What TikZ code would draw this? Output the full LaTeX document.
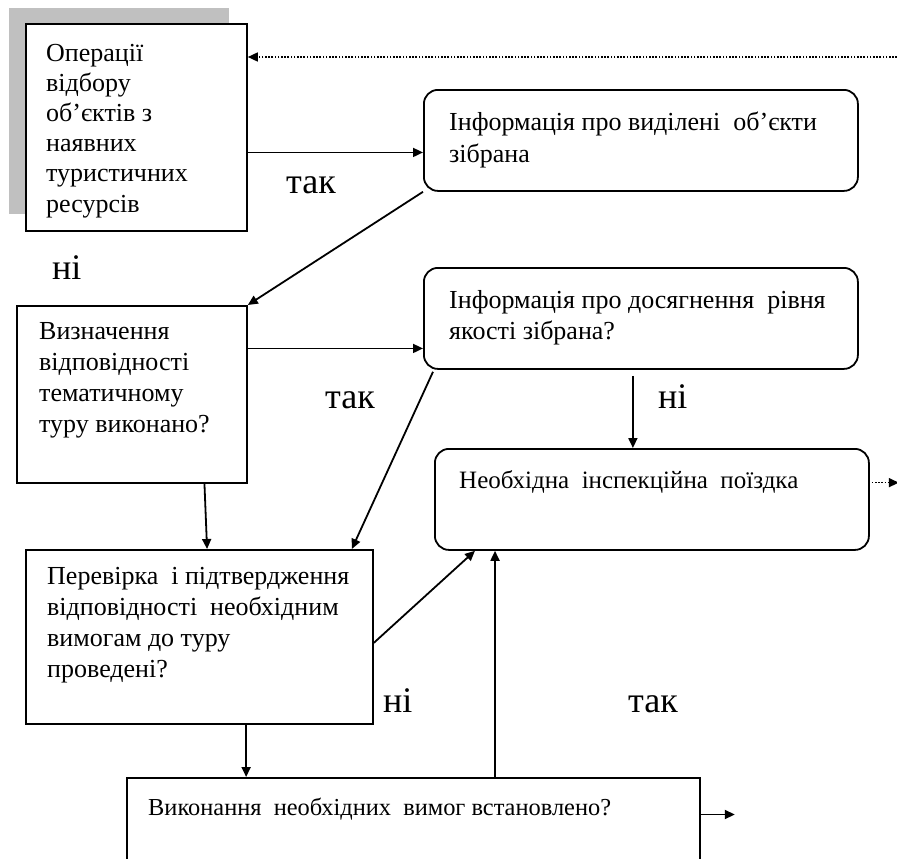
\documentclass[tikz,border=0pt]{standalone}
\usepackage{fontspec}
\setmainfont{Liberation Serif}
\usetikzlibrary{arrows.meta,calc}
\tikzset{
  box/.style={draw, line width=1.8pt, fill=white, anchor=north west, inner sep=0pt},
  rbox/.style={box, rounded corners=14pt},
  txt/.style={anchor=base west, inner sep=0pt, align=left, font=\fontsize{26}{30.2}\selectfont},
  lbl/.style={anchor=base west, inner sep=0pt, font=\fontsize{36}{40}\selectfont},
  arr/.style={line width=1.8pt, -{Triangle[length=10pt,width=9pt]}},
  dotarr/.style={line width=1.6pt, dash pattern=on 1.6pt off 1.6pt, -{Triangle[length=10pt,width=9pt]}}
}
\begin{document}
\begin{tikzpicture}[x=1pt,y=-1pt]
\useasboundingbox (0,0) rectangle (897,859);
\clip (0,0) rectangle (897,859);
% shadow
\fill[fill={rgb,255:red,192;green,192;blue,192}] (9,8) rectangle (229,214);
% boxes
\node[box, minimum width=221pt, minimum height=207pt] (b1) at (25,23) {};
\node[rbox, minimum width=434pt, minimum height=101pt] (b2) at (423,89) {};
\node[box, minimum width=230pt, minimum height=177pt] (b3) at (16,305) {};
\node[rbox, minimum width=434pt, minimum height=101pt] (b4) at (423,267) {};
\node[box, minimum width=347pt, minimum height=174pt] (b5) at (25,549) {};
\node[rbox, minimum width=434pt, minimum height=101pt] (b6) at (434,448) {};
\node[box, minimum width=573pt, minimum height=150pt] (b7) at (126,777) {};
% texts (anchored at the baseline of the last line)
\node[txt] (t1) at (46,212) {Операції\\відбору\\об’єктів з\\наявних\\туристичних\\ресурсів};
\node[txt, font=\fontsize{26}{32}\selectfont] (t2) at (449,162) {Інформація про виділені\ \ об’єкти\\зібрана};
\node[txt, font=\fontsize{26}{30.7}\selectfont] (t3) at (39,432) {Визначення\\відповідності\\тематичному\\туру виконано?};
\node[txt, font=\fontsize{26}{31}\selectfont] (t4) at (449,339) {Інформація про досягнення\ \ рівня\\якості зібрана?};
\node[txt, font=\fontsize{26}{30.7}\selectfont] (t5) at (47,677) {Перевірка\ \ і підтвердження\\відповідності\ \ необхідним\\вимогам до туру\\проведені?};
\node[txt, font=\fontsize{25}{28}\selectfont] (t6) at (459,488) {Необхідна\ \ інспекційна\ \ поїздка};
\node[txt, font=\fontsize{24.4}{28}\selectfont] (t7) at (148,815) {Виконання\ \ необхідних\ \ вимог встановлено?};
% labels
\node[lbl] (l1) at (286,193) {так};
\node[lbl] (l2) at (52,279) {ні};
\node[lbl] (l3) at (325,408) {так};
\node[lbl] (l4) at (658,408) {ні};
\node[lbl] (l5) at (383,712) {ні};
\node[lbl] (l6) at (628,712) {так};
% connectors
\coordinate (dotstart) at (897,57);
\draw[dotarr] (dotstart) -- (dotstart -| b1.east);
\coordinate (p1) at ($(b1.north east)!0.62!(b1.south east)$);
\draw[arr] (p1) -- (p1 -| b2.west);
\draw[arr] (b2.south west) -- (b3.north east);
\coordinate (p3) at ($(b3.north east)!0.243!(b3.south east)$);
\draw[arr] (p3) -- (p3 -| b4.west);
\draw[arr] ($(b4.south west)+(10,2)$) -- ($(b5.north west)!0.937!(b5.north east)$);
\coordinate (q4) at ($(b4.south)+(-8,6)$);
\draw[arr] (q4) -- (q4 |- b6.north);
\draw[arr] ($(b3.south west)!0.813!(b3.south east)$) -- ($(b5.north west)!0.522!(b5.north east)$);
\draw[arr] ($(b5.north east)!0.534!(b5.south east)$) -- ($(b6.south west)!0.094!(b6.south east)$);
\coordinate (p5) at ($(b5.south west)!0.634!(b5.south east)$);
\draw[arr] (p5) -- (p5 |- b7.north);
\coordinate (p7) at ($(b7.north west)!0.642!(b7.north east)$);
\draw[arr] (p7) -- (p7 |- b6.south);
\coordinate (p7r) at ($(b7.north east)!0.247!(b7.south east)$);
\coordinate (p7end) at ($(p7r)+(34,0)$);
\draw[arr] (p7r) -- (p7end);
\coordinate (p6r) at ($(b6.north east)!0.337!(b6.south east)$);
\coordinate (p6end) at ($(p6r)+(29,0)$);
\draw[dotarr] ($(p6r)+(2,0)$) -- (p6end);
\end{tikzpicture}
\end{document}
